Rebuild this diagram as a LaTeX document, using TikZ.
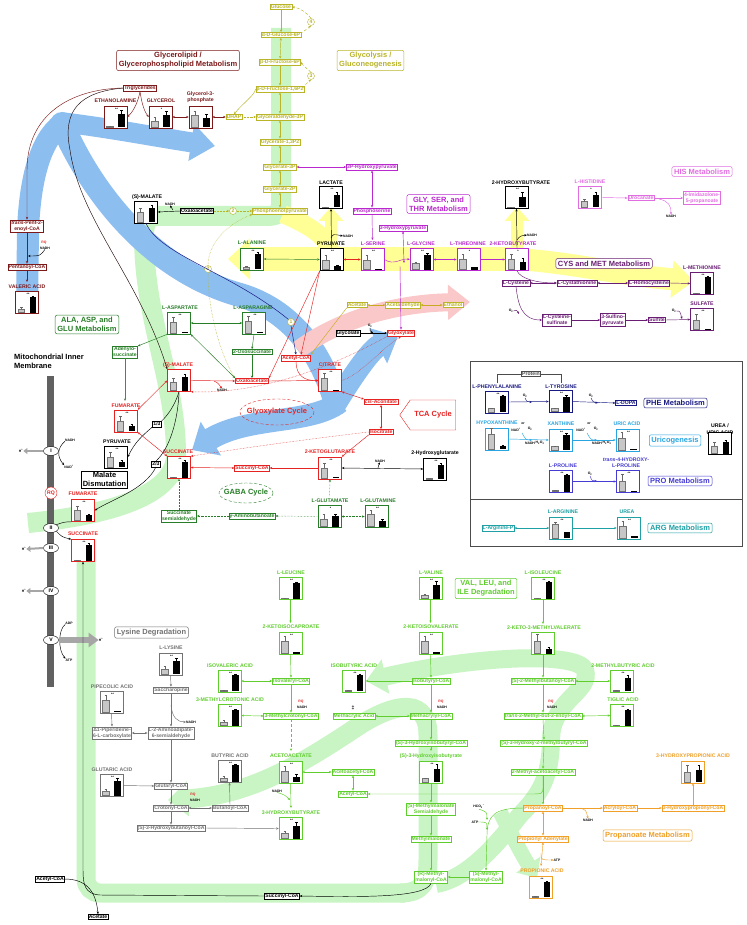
\documentclass[tikz,border=0pt]{standalone}
\usepackage{fontspec}
\setmainfont{Liberation Sans}
\usetikzlibrary{arrows.meta,shapes.geometric,shapes.symbols,calc}
\definecolor{cML}{RGB}{125,25,25}
\definecolor{cGly}{RGB}{185,180,40}
\definecolor{cMag}{RGB}{185,40,205}
\definecolor{cAla}{RGB}{40,125,40}
\definecolor{cTCA}{RGB}{230,35,35}
\definecolor{cCys}{RGB}{105,30,115}
\definecolor{cPhe}{RGB}{25,25,130}
\definecolor{cUri}{RGB}{40,165,225}
\definecolor{cPro}{RGB}{70,60,210}
\definecolor{cArg}{RGB}{30,160,165}
\definecolor{cBca}{RGB}{95,205,45}
\definecolor{cPrp}{RGB}{240,160,40}
\definecolor{cLys}{RGB}{115,115,115}
\definecolor{cHis}{RGB}{225,110,225}
\definecolor{bB}{RGB}{140,190,240}
\definecolor{bG}{RGB}{200,245,195}
\definecolor{bY}{RGB}{255,255,150}
\definecolor{bP}{RGB}{250,200,200}
\newcommand\fs{\fontsize{5.1}{6.2}\selectfont\bfseries}
\newcommand\fl{\fontsize{5.2}{6.3}\selectfont\bfseries}
\newcommand\ft{\fontsize{7.5}{9}\selectfont\bfseries}
\newcommand\fst{\fontsize{3.4}{3.8}\selectfont\bfseries}
\tikzset{
 box/.style={draw=#1, text=#1, fill=white, inner sep=0.8pt, font=\fs, line width=0.45pt, align=center},
 lbl/.style={text=#1, font=\fl, inner sep=0, align=center},
 ttl/.style={draw=#1, text=#1, fill=white, rounded corners=2pt, font=\ft, align=center, inner sep=2.2pt, line width=0.5pt},
 bx/.style={draw=#1, fill=white, minimum width=23pt, minimum height=22pt, inner sep=0, line width=0.55pt},
 cir/.style={circle, draw=#1, text=#1, fill=white, inner sep=0.3pt, font=\fs, minimum size=7pt},
 sm/.style={font=\fst, inner sep=0},
 mc/.style={ellipse, draw, fill=white, inner sep=0.3pt, minimum width=15pt, minimum height=9pt, font=\fs},
 ar/.style={-{Stealth[length=2.6pt,width=2.2pt]}, line width=0.45pt},
 dar/.style={{Stealth[length=2.6pt,width=2.2pt]}-{Stealth[length=2.6pt,width=2.2pt]}, line width=0.45pt},
 hp/.style={black!35, line width=2pt, -{Triangle[length=4pt,width=6pt]}},
}
\newcommand\bb[9]{%
 \node[bx=#4] (#1) at (#2,#3) {};
 \begin{scope}[shift={(#2,#3)}]
  \filldraw[fill=black!22, draw=black!55, line width=0.3pt] (-9,10) rectangle (-2.5,{10-17*#5});
  \draw[line width=0.3pt, black!60] (-5.75,{10-17*#5}) -- (-5.75,{10-17*(#5+#6)}) (-7,{10-17*(#5+#6)}) -- (-4.5,{10-17*(#5+#6)});
  \fill[black] (2.5,10) rectangle (9,{10-17*#7});
  \draw[line width=0.3pt] (5.75,{10-17*#7}) -- (5.75,{10-17*(#7+#8)}) (4.5,{10-17*(#7+#8)}) -- (7,{10-17*(#7+#8)});
  \node[sm] at (1,-8) {#9};
 \end{scope}}
\begin{document}
\begin{tikzpicture}[x=1pt,y=-1pt]
\useasboundingbox (0,0) rectangle (746,925);
\fill[white] (0,0) rectangle (746,925);

%% ---------------- bands ----------------
\draw[bG, line width=20pt] (281,28) -- (281,205) .. controls (281,214) and (276,216) .. (266,216) -- (158,216) .. controls (148,216) and (144,222) .. (144,235) .. controls (144,320) and (176,380) .. (176,455) .. controls (176,495) and (110,515) .. (28,523);
\draw[bG, line width=19pt, rounded corners=14pt] (86,540) -- (86,893) -- (405,893);
\draw[bG, line width=19pt, -{Triangle[width=34pt,length=20pt]}] (400,893) .. controls (424,893) and (428,880) .. (428,860) -- (428,735) .. controls (428,700) and (400,700) .. (360,725) .. controls (300,765) and (250,795) .. (168,800);
\draw[bG, line width=18pt] (436,884) .. controls (470,878) and (500,840) .. (520,815) .. controls (545,790) and (551,770) .. (551,735);
\draw[bG, line width=18pt, -{Triangle[width=34pt,length=20pt]}] (551,740) .. controls (551,700) and (592,692) .. (585,670) .. controls (578,652) and (480,655) .. (366,681);
\draw[bG, line width=15pt, -{Triangle[width=28pt,length=16pt]}] (500,812) .. controls (512,835) and (522,855) .. (537,878);

\fill[bB] (62,124) circle (12);
\draw[bB, line width=20pt, -{Triangle[width=36pt,length=24pt]}] (60,122) .. controls (110,128) and (150,136) .. (215,146);
\draw[bB, line width=22pt] (62,124) .. controls (40,140) and (30,180) .. (28,230) -- (27,312);
\draw[bB, line width=24pt] (62,124) .. controls (90,190) and (150,270) .. (240,295) .. controls (290,310) and (320,350) .. (335,400);
\draw[bB, line width=22pt, -{Triangle[width=38pt,length=22pt]}] (333,408) .. controls (350,380) and (370,350) .. (398,336);
\draw[bB, line width=22pt, -{Triangle[width=38pt,length=22pt]}] (340,402) .. controls (310,425) and (250,415) .. (192,450);

\draw[bP, line width=18pt, -{Triangle[width=34pt,length=22pt]}] (298,350) .. controls (340,318) and (400,303) .. (470,302);

\draw[bY, line width=18pt] (283,214) .. controls (300,222) and (325,232) .. (331,252);
\draw[bY, line width=24pt, -{Triangle[width=40pt,length=22pt]}] (520,259) -- (228,259);
\draw[bY, line width=22pt, -{Triangle[width=36pt,length=22pt]}] (515,259) .. controls (570,262) and (620,275) .. (694,281);
\draw[bY, line width=12pt, -{Triangle[width=24pt,length=14pt]}] (331,252) -- (331,207);
\draw[bY, line width=12pt, -{Triangle[width=24pt,length=14pt]}] (517,252) -- (517,207);

%% ---------------- big frame & membrane ----------------
\draw[black!70, line width=0.7pt] (470,361) rectangle (742,546);
\draw[black!70, line width=0.7pt] (470,499) -- (742,499);
\fill[black!62] (47,376) rectangle (54,687);

%% ---------------- titles ----------------
\node[ttl=cML] (tGL) at (178,60.5) {Glycerolipid /\\Glycerophospholipid Metabolism};
\node[ttl=cGly] (tGlyc) at (370.5,60.5) {Glycolysis /\\Gluconeogenesis};
\node[ttl=cMag] (tGSt) at (438.5,204) {GLY, SER, and\\THR Metabolism};
\node[ttl=cHis] (tHis) at (702,171.5) {HIS Metabolism};
\node[ttl=cCys] (tCys) at (604,263.5) {CYS and MET Metabolism};
\node[ttl=cAla] (tAla) at (87,324.5) {ALA, ASP, and\\GLU Metabolism};
\node[ttl=cPhe] (tPhe) at (675.5,403) {PHE Metabolism};
\node[ttl=cUri] (tUri) at (675,440.5) {Uricogenesis};
\node[ttl=cPro] (tPro) at (680,481) {PRO Metabolism};
\node[ttl=cArg] (tArg) at (680,528) {ARG Metabolism};
\node[ttl=cLys] (tLys) at (151.5,632.5) {Lysine Degradation};
\node[ttl=cBca] (tBca) at (486,588.5) {VAL, LEU, and\\ILE Degradation};
\node[ttl=cPrp] (tPrp) at (647.5,835.5) {Propanoate Metabolism};
\node[draw=cTCA, text=cTCA, signal, signal to=west, signal pointer angle=110, font=\ft, minimum width=56pt, minimum height=30pt, fill=white, inner sep=1pt] (tca) at (433,415) {TCA Cycle};
\node[font=\ft, text=cTCA, inner sep=0] (gxc) at (277,412) {Glyoxylate Cycle};
\draw[cTCA, densely dashed, line width=0.4pt] (gxc.center) ellipse (37 and 13);
\node[font=\ft, text=cAla, inner sep=0] (gabc) at (246,493) {GABA Cycle};
\draw[cAla, densely dashed, line width=0.4pt] (gabc.center) ellipse (27 and 10);
\node[font=\ft, align=left, anchor=north west, inner sep=0] (mito) at (14,354) {Mitochondrial Inner\\Membrane};
\node[draw, font=\ft, align=center, inner sep=1.5pt, fill=white] (mdis) at (104.5,479.5) {Malate\\Dismutation};

%% ---------------- glycerolipid ----------------
\node[box=cML] (trig) at (140,88) {Triglycerides};
\node[lbl=cML] (lEth) at (115.5,101) {ETHANOLAMINE};
\node[lbl=cML] (lGlyc) at (161,101) {GLYCEROL};
\node[lbl=cML] (lG3p) at (200.5,97.5) {Glycerol-3-\\phosphate};
\bb{eth}{115.5}{117}{cML}{0.04}{0}{0.75}{0.22}{**}
\bb{glyc}{160.5}{117}{cML}{0.35}{0.22}{0.7}{0.22}{*}
\bb{g3ph}{200.5}{117}{cML}{0.7}{0.25}{0.55}{0.2}{}
\node[box=cML] (tpent) at (27,226) {\textit{trans}-Pent-2-\\enoyl-CoA};
\node[sm, text=cTCA] (rq0) at (44,243) {RQ};
\node[sm] (nadh0) at (45,248) {NADH};
\node[box=cML] (pent) at (27,267) {Pentanoyl-CoA};
\node[lbl=cML] (lVal) at (27,287) {VALERIC ACID};
\bb{val}{27}{302.5}{cML}{0.2}{0.1}{0.9}{0.08}{**}

%% ---------------- glycolysis ----------------
\node[box=cGly] (gluc) at (281,7) {Glucose};
\node[box=cGly] (g6p) at (281,35) {α-D-Glucose-6P};
\node[box=cGly] (f6p) at (280,62) {β-D-Fructose-6P};
\node[box=cGly] (f16) at (280,89) {β-D-Fructose-1,6P2};
\node[box=cGly] (ga3p) at (280,117) {Glyceraldehyde-3P};
\node[box=cGly] (g13) at (280,142) {Glycerate-1,3P2};
\node[box=cGly] (g3p) at (280,167) {Glycerate-3P};
\node[box=cGly] (g2p) at (280,189) {Glycerate-2P};
\node[box=cGly] (pep) at (280,211) {Phosphoenolpyruvate};
\node[cir=cGly] (c4) at (311,22) {4};
\node[cir=cGly] (c3) at (311,76) {3};
\node[box=cGly] (dhap) at (234,117) {DHAP};
\node[cir=cGly] (c2a) at (233,211) {2};
\node[cir=cGly] (c2b) at (208,269) {2};
\node[cir=cGly] (c1) at (291,322) {1};

%% ---------------- upper middle ----------------
\node[lbl=black] (lSm1) at (147,197) {(S)-MALATE};
\bb{smal1}{146}{212}{black}{0.55}{0.25}{0.85}{0.12}{}
\node[box=black] (oxa1) at (197,211) {Oxaloacetate};
\node[sm] (nadh1) at (170,204) {NADH};
\node[lbl=black] (lLac) at (331,183) {LACTATE};
\bb{lac}{331}{197.5}{black}{0.04}{0}{0.75}{0.15}{**}
\node[box=cMag] (hp3) at (372,167) {3P-Hydroxypyruvate};
\node[box=cMag] (pser) at (372,211) {Phosphoserine};
\node[box=cMag] (hpyr) at (403,228) {3-Hydroxypyruvate};
\node[lbl=black] (lHb) at (521,183) {2-HYDROXYBUTYRATE};
\bb{hb}{516.5}{197.5}{black}{0.04}{0}{0.6}{0.3}{**}
\node[lbl=cHis] (lHis) at (590,182) {L-HISTIDINE};
\bb{his}{590}{197.5}{cHis}{0.35}{0.15}{0.75}{0.15}{*}
\node[box=cHis] (uro) at (641,198) {Urocanate};
\node[box=cHis] (imid) at (702,198) {4-Imidazolone-\\5-propanoate};
\node[sm] (nadh2) at (671,216) {NADH};
\node[sm] (nadh3) at (348,236) {NADH};
\node[sm] (nadh4) at (532,235) {NADH};

\node[lbl=cAla] (lAla) at (252,243) {L-ALANINE};
\bb{ala}{252}{259}{cAla}{0.12}{0.05}{0.9}{0.08}{**}
\node[lbl=black] (lPyr) at (331,244) {PYRUVATE};
\bb{pyr}{331.5}{259.5}{black}{0.55}{0.3}{0.2}{0.05}{**}
\node[lbl=cMag] (lSer) at (373,244) {L-SERINE};
\bb{ser}{372.5}{259.5}{cMag}{0.55}{0.3}{0.03}{0}{**}
\node[lbl=cMag] (lGly) at (421,244) {L-GLYCINE};
\bb{gly}{421.5}{259.5}{cMag}{0.35}{0.1}{0.85}{0.12}{**}
\node[lbl=cMag] (lThr) at (468,244) {L-THREONINE};
\bb{thr}{468.5}{259.5}{cMag}{0.6}{0.3}{0.15}{0}{*}
\node[lbl=cMag] (lKb) at (513,244) {2-KETOBUTYRATE};
\bb{kb}{517}{259.5}{cMag}{0.6}{0.3}{0.45}{0.2}{*}
\node[lbl=cCys] (lMet) at (702,268) {L-METHIONINE};
\bb{met}{702}{283.5}{cCys}{0.04}{0}{0.95}{0.05}{**}
\node[box=cCys] (cys) at (516,283) {L-Cysteine};
\node[box=cCys] (cysta) at (577,283) {L-Cystathionine};
\node[box=cCys] (hcys) at (649,283) {L-Homocysteine};
\node[sm] (o2a) at (511,311) {O\textsubscript{2}};
\node[box=cCys] (cysul) at (557,320) {L-Cysteine-\\sulfinate};
\node[box=cCys] (spyr) at (613,320) {3-Sulfino-\\pyruvate};
\node[box=cCys] (sulfite) at (657,320) {Sulfite};
\node[sm] (o2b) at (674,311) {O\textsubscript{2}};
\node[lbl=cCys] (lSulf) at (702,304) {SULFATE};
\bb{sulf}{702}{319.5}{cCys}{0.55}{0.35}{0.03}{0}{**}

\node[box=cGly] (acetate) at (357,305) {Acetate};
\node[box=cGly] (acald) at (403,305) {Acetaldehyde};
\node[box=cGly] (ethanol) at (453,305) {Ethanol};
\node[box=black] (glycolate) at (348,333) {Glycolate};
\node[sm] (o2c) at (370,326) {O\textsubscript{2}};
\node[box=cTCA] (glyox) at (401,333) {Glyoxylate};

%% ---------------- ASP / TCA ----------------
\node[lbl=cAla] (lAsp) at (180,308) {L-ASPARTATE};
\bb{asp}{179}{323}{cAla}{0.65}{0.3}{0.05}{0}{**}
\node[lbl=cAla] (lAsn) at (253,308) {L-ASPARAGINE};
\bb{asn}{254}{323}{cAla}{0.7}{0.3}{0.05}{0}{**}
\node[box=cAla] (adeno) at (125,352) {Adenylo-\\succinate};
\node[box=cAla] (oxos) at (252,352) {2-Oxosuccinate};
\node[box=cTCA] (acoa) at (296,358) {Acetyl-CoA};
\node[lbl=cTCA] (lSm2) at (178,365) {(S)-MALATE};
\bb{smal2}{179}{380.5}{cTCA}{0.5}{0.25}{0.8}{0.15}{}
\node[box=cTCA] (oxa2) at (252,381) {Oxaloacetate};
\node[sm] (nadh5) at (222,390) {NADH};
\node[lbl=cTCA] (lCit) at (330,365) {CITRATE};
\bb{cit}{330}{380.5}{cTCA}{0.7}{0.3}{0.03}{0}{**}
\node[box=cTCA] (cisacon) at (381,402) {\textit{cis}-Aconitate};
\node[box=cTCA] (isocit) at (381,432) {Isocitrate};
\node[lbl=cTCA] (lFum) at (126,406) {FUMARATE};
\bb{fum}{126}{421}{cTCA}{0.6}{0.3}{0.3}{0.1}{**}
\node[draw, fill=white, font=\fs, inner sep=0.8pt] (n13) at (157,424) {1/3};
\node[lbl=black] (lPyr2) at (117,442) {PYRUVATE};
\bb{pyr2}{116}{457}{black}{0.6}{0.3}{0.3}{0.1}{**}
\node[lbl=cTCA] (lSuc) at (178,452) {SUCCINATE};
\bb{suc}{179}{467.5}{cTCA}{0.04}{0}{0.9}{0.1}{**}
\node[box=cTCA] (succoa) at (252,468) {Succinyl-CoA};
\node[lbl=cTCA] (lKg) at (330,452) {2-KETOGLUTARATE};
\bb{kg}{330}{468}{cTCA}{0.6}{0.3}{0.03}{0}{**}
\node[sm] (nadh6) at (380,461) {NADH};
\node[lbl=black] (lHg) at (435,453) {2-Hydroxyglutarate};
\bb{hg}{435}{469}{black}{0.03}{0}{0.85}{0.1}{**}
\node[draw, fill=white, font=\fs, inner sep=0.8pt] (n23) at (156,464) {2/3};
\node[lbl=cAla] (lGlu) at (330,501) {L-GLUTAMATE};
\bb{glu}{329.5}{516.5}{cAla}{0.45}{0.25}{0.6}{0.15}{*}
\node[lbl=cAla] (lGln) at (378,501) {L-GLUTAMINE};
\bb{gln}{376.5}{516.5}{cAla}{0.75}{0.2}{0.35}{0.1}{**}
\node[box=cAla] (ssa) at (179,516) {Succinate\\semialdehyde};
\node[box=cAla] (gaba) at (252,516) {γ-Aminobutanoate};

%% ---------------- membrane ----------------
\node[mc] (cI) at (51,451) {I};
\node[sm] (nadhI) at (70,440) {NADH};
\node[sm] (nadI) at (69,467) {NAD\textsuperscript{+}};
\node[sm] (hI) at (21,451) {H\textsuperscript{+}};
\node[circle, draw=cTCA, text=cTCA, fill=white, font=\fs, minimum size=12pt, inner sep=0] (rqc) at (51,493) {RQ};
\node[lbl=cTCA] (lFum2) at (83,494) {FUMARATE};
\bb{fum2}{83}{510.5}{cTCA}{0.6}{0.25}{0.3}{0.1}{**}
\node[mc] (cII) at (51,528) {II};
\node[lbl=cTCA] (lSuc2) at (83,534) {SUCCINATE};
\bb{suc2}{83}{550.5}{cTCA}{0.03}{0}{0.9}{0.1}{**}
\node[mc] (cIII) at (51,548) {III};
\node[sm] (hIII) at (24,549) {H\textsuperscript{+}};
\node[mc] (cIV) at (51,591) {IV};
\node[sm] (hIV) at (24,591) {H\textsuperscript{+}};
\node[mc] (cV) at (51,640) {V};
\node[sm] (adp) at (69,623) {ADP};
\node[sm] (atp) at (69,660) {ATP};
\node[sm] (hV) at (101,640) {H\textsuperscript{+}};

%% ---------------- PHE box ----------------
\node[box=black!70] (protein) at (531,374) {Protein};
\node[lbl=cPhe] (lPhe) at (497,387) {L-PHENYLALANINE};
\bb{phe}{497}{402}{cPhe}{0.2}{0}{0.95}{0.05}{**}
\node[lbl=cPhe] (lTyr) at (561,387) {L-TYROSINE};
\bb{tyr}{560.5}{401.5}{cPhe}{0.2}{0}{0.85}{0.1}{**}
\node[sm] (o2d) at (525,396) {O\textsubscript{2}};
\node[sm] (o2e) at (591,396) {O\textsubscript{2}};
\node[box=cPhe] (ldopa) at (626,403) {L-DOPA};
\node[lbl=cUri] (lHyp) at (497,423) {HYPOXANTHINE};
\bb{hyp}{497}{439}{cUri}{0.9}{0.3}{0.2}{0.05}{}
\node[lbl=cUri] (lXan) at (561,424) {XANTHINE};
\bb{xan}{560.5}{440}{cUri}{0.2}{0}{0.9}{0.1}{**}
\node[lbl=cUri] (lUric) at (627,424) {URIC ACID};
\bb{uric}{627.5}{440}{cUri}{0.7}{0.35}{0.05}{0}{**}
\node[lbl=black] (lUreu) at (720,429) {UREA /\\URIC ACID};
\bb{ureu}{720}{443.5}{black}{0.45}{0.2}{0.7}{0.1}{}
\node[sm] at (516,430) {NAD\textsuperscript{+}};
\node[sm] at (523,424) {or};
\node[sm] at (530,429) {O\textsubscript{2}};
\node[sm] at (530,443) {NADH};
\node[sm] at (540,443) {H\textsubscript{2}O\textsubscript{2}};
\node[sm] at (581,430) {NAD\textsuperscript{+}};
\node[sm] at (589,424) {or};
\node[sm] at (596,429) {O\textsubscript{2}};
\node[sm] at (597,443) {NADH};
\node[sm] at (607,443) {H\textsubscript{2}O\textsubscript{2}};
\node[lbl=cPro] (lPro) at (563,466) {L-PROLINE};
\bb{pro}{561}{481.5}{cPro}{0.1}{0}{0.95}{0.05}{**}
\node[lbl=cPro] (lHpro) at (626,463) {\textit{trans}-4-HYDROXY-\\L-PROLINE};
\bb{hpro}{628}{481.5}{cPro}{0.6}{0.4}{0.05}{0}{**}
\node[sm] (o2f) at (590,474) {O\textsubscript{2}};
\node[box=cArg] (argp) at (498,528) {L-Arginine-P};
\node[lbl=cArg] (lArg) at (563,512) {L-ARGININE};
\bb{arg}{561}{528}{cArg}{0.8}{0.15}{0.35}{0}{**}
\node[lbl=cArg] (lUrea) at (627,512) {UREA};
\bb{urea}{628.5}{528}{cArg}{0.7}{0.3}{0.1}{0}{**}

%% ---------------- lower part ----------------
\node[lbl=cBca] (lLeu) at (291,573) {L-LEUCINE};
\bb{leu}{290.5}{588.5}{cBca}{0.05}{0}{0.9}{0.05}{**}
\node[lbl=cBca] (lVali) at (431,573) {L-VALINE};
\bb{vali}{430.5}{588.5}{cBca}{0.2}{0.05}{0.8}{0.2}{**}
\node[lbl=cBca] (lIle) at (543,573) {L-ISOLEUCINE};
\bb{ile}{543}{588.5}{cBca}{0.05}{0}{0.95}{0.05}{**}
\node[lbl=cBca] (lKic) at (291,627) {2-KETOISOCAPROATE};
\bb{kic}{290.5}{643.5}{cBca}{0.75}{0.3}{0.1}{0}{**}
\node[lbl=cBca] (lKiv) at (431,627) {2-KETOISOVALERATE};
\bb{kiv}{430.5}{643.5}{cBca}{0.75}{0.3}{0.1}{0}{**}
\node[lbl=cBca] (lKmv) at (544,628) {2-KETO-3-METHYLVALERATE};
\bb{kmv}{543}{643.5}{cBca}{0.75}{0.4}{0.25}{0.1}{}
\node[lbl=cLys] (lLys) at (171,648) {L-LYSINE};
\bb{lys}{170.5}{664}{cLys}{0.3}{0.15}{0.75}{0.2}{**}
\node[lbl=cBca] (lIva) at (230,666) {ISOVALERIC ACID};
\bb{iva}{229.5}{681}{cBca}{0.03}{0}{0.95}{0.05}{**}
\node[lbl=cBca] (lIba) at (354,666) {ISOBUTYRIC ACID};
\bb{iba}{354}{681}{cBca}{0.03}{0}{0.95}{0.05}{**}
\node[lbl=cBca] (lMba) at (623,666) {2-METHYLBUTYRIC ACID};
\bb{mba}{622}{681}{cBca}{0.05}{0}{0.75}{0.2}{**}
\node[box=cBca] (isovcoa) at (291,681) {Isovaleryl-CoA};
\node[box=cBca] (isobcoa) at (431,681) {Isobutyryl-CoA};
\node[box=cBca] (mbcoa) at (543,681) {(S)-2-Methylbutanoyl-CoA};
\node[lbl=cLys] (lPip) at (112,687) {PIPECOLIC ACID};
\bb{pip}{111.5}{702}{cLys}{0.7}{0.3}{0.03}{0}{**}
\node[box=cLys] (sacch) at (171,690) {Saccharopine};
\node[lbl=cBca] (lMca) at (230,700) {3-METHYLCROTONIC ACID};
\bb{mca}{229.5}{715.5}{cBca}{0.2}{0.1}{0.9}{0.05}{**}
\node[lbl=cBca] (lTig) at (623,700) {TIGLIC ACID};
\bb{tig}{622}{715.5}{cBca}{0.03}{0}{0.9}{0.08}{**}
\node[sm, text=cTCA] at (301,702) {RQ};
\node[sm] at (302,707) {NADH};
\node[sm, text=cTCA] at (441,702) {RQ};
\node[sm] at (442,707) {NADH};
\node[sm, text=cTCA] at (551,702) {RQ};
\node[sm] at (552,707) {NADH};
\node[font=\fl, inner sep=0] at (353,708) {‡};
\node[box=cBca] (mccoa) at (291,716) {3-Methylcrotonyl-CoA};
\node[box=cBca] (macid) at (354,716) {Methacrylic Acid};
\node[box=cBca] (maccoa) at (431,716) {Methacrylyl-CoA};
\node[box=cBca] (tmb) at (543,716) {\textit{trans}-2-Methyl-but-2-enoyl-CoA};
\node[sm] (nadh7) at (191,722) {NADH};
\node[box=cLys] (p6c) at (112,733) {Δ1-Piperideine-\\6-L-carboxylate};
\node[box=cLys] (aas) at (171,733) {L-2-Aminoadipate-\\6-semialdehyde};
\node[box=cBca] (hibcoa) at (431,743) {(S)-3-Hydroxyisobutyryl-CoA};
\node[box=cBca] (hmb) at (544,743) {(S)-3-Hydroxy-2-methylbutyryl-CoA};
\node[lbl=cBca] (lAcac) at (291,756) {ACETOACETATE};
\bb{acac}{290.5}{772}{cBca}{0.65}{0.3}{0.3}{0.15}{**}
\node[lbl=cBca] (lHiba) at (431,756) {(S)-3-Hydroxyisobutyrate};
\bb{hiba}{431}{772}{cBca}{0.2}{0.05}{0.75}{0.3}{**}
\node[lbl=cLys] (lButa) at (230,756) {BUTYRIC ACID};
\bb{buta}{229.5}{771.5}{cLys}{0.2}{0.1}{0.95}{0.05}{**}
\node[lbl=cPrp] (lHpa) at (693,756) {3-HYDROXYPROPIONIC ACID};
\bb{hpa}{693}{772}{cPrp}{0.6}{0.4}{0.7}{0.3}{}
\node[lbl=cLys] (lGlta) at (112,770) {GLUTARIC ACID};
\bb{glta}{111.5}{785.5}{cLys}{0.25}{0.1}{0.85}{0.15}{**}
\node[box=cLys] (glutcoa) at (171,786) {Glutaryl-CoA};
\node[box=cBca] (aacoa) at (353,772) {Acetoacetyl-CoA};
\node[box=cBca] (macaa) at (543,772) {2-Methyl-acetoacetyl-CoA};
\node[box=cBca] (acoa2) at (353,794) {Acetyl-CoA};
\node[sm] (nadh8) at (277,791) {NADH};
\node[sm, text=cTCA] at (193,795) {RQ};
\node[sm] at (195,800) {NADH};
\node[box=cLys] (crot) at (171,808) {Crotonyl-CoA};
\node[box=cLys] (butcoa) at (230,808) {Butanoyl-CoA};
\node[box=cPrp] (propcoa) at (543,808) {Propanoyl-CoA};
\node[box=cPrp] (acrcoa) at (620,808) {Acryloyl-CoA};
\node[box=cPrp] (hpcoa) at (693,808) {3-Hydroxypropionyl-CoA};
\node[sm] (nadh9) at (588,820) {NADH};
\node[box=cBca] (mmsa) at (431,809) {(S)-Methylmalonate\\Semialdehyde};
\node[sm] (hco3) at (479,807) {HCO\textsubscript{3}\textsuperscript{−}};
\node[sm] (atp2) at (475,822) {ATP};
\node[lbl=cBca] (lBhb) at (291,813) {3-HYDROXYBUTYRATE};
\bb{bhb}{290.5}{828.5}{cBca}{0.3}{0.15}{0.75}{0.2}{**}
\node[box=cLys] (hbcoa) at (171,828) {(S)-3-Hydroxybutanoyl-CoA};
\node[box=cPrp] (propad) at (543,839) {Propionyl Adenylate};
\node[box=cBca] (mma) at (431,839) {Methylmalonate};
\node[sm] (atp3) at (557,860) {ATP};
\node[lbl=cPrp] (lPpa) at (542,871) {PROPIONIC ACID};
\bb{ppa}{541}{887}{cPrp}{0.03}{0}{0.9}{0.05}{**}
\node[box=cBca] (rmm) at (431,877) {(R)-Methyl-\\malonyl-CoA};
\node[box=cBca] (smm) at (486,877) {(S)-Methyl-\\malonyl-CoA};
\node[box=black] (acoa3) at (50,879) {Acetyl-CoA};
\node[box=black] (succoa2) at (282,896) {Succinyl-CoA};
\node[box=black] (acetate2) at (98,917) {Acetate};

%% named free ends
\coordinate (serTop) at (372.5,240);
\coordinate (hpEnd) at (404,263);
\coordinate (glyTurn) at (400,266);
\coordinate (fumTop) at (125,401);
\coordinate (gluTop) at (329.5,496);
\coordinate (pheTop) at (497,383);
\coordinate (tyrTop) at (561,383);
\coordinate (kicTop) at (290.5,623);
\coordinate (kivTop) at (430.5,623);
\coordinate (kmvTop) at (543,624);
\coordinate (acacTop) at (291,751);
\coordinate (hibTop) at (431,751);
\coordinate (bhbTop) at (291,808);
\coordinate (ppaTop) at (541,866);
\coordinate (valTop) at (27,282);
\coordinate (lacBot) at (331,209);

%% ---------------- connectors ----------------
\draw[ar,cGly] (gluc) -- (g6p);
\draw[ar,cGly,densely dashed] (g6p.east) .. controls (300,33) and (306,30) .. (c4.south);
\draw[ar,cGly,densely dashed] (c4.north) .. controls (306,12) and (300,8) .. (gluc.east);
\draw[dar,cGly] (g6p) -- (f6p);
\draw[ar,cGly] (f6p) -- (f16);
\draw[ar,cGly,densely dashed] (f16.east) .. controls (302,87) and (306,84) .. (c3.south);
\draw[ar,cGly,densely dashed] (c3.north) .. controls (306,68) and (302,64) .. (f6p.east);
\draw[dar,cGly] (f16) -- (ga3p);
\draw[dar,cGly] (ga3p) -- (g13);
\draw[dar,cGly] (g13) -- (g3p);
\draw[dar,cGly] (g3p) -- (g2p);
\draw[dar,cGly] (g2p) -- (pep);
\draw[ar,cGly] (f16.west) .. controls (255,95) and (242,104) .. (dhap.north);
\draw[ar,cGly,densely dotted] (dhap) -- (ga3p);
\draw[dar,cML] (g3ph) -- (dhap);
\draw[dar,cML] (glyc) -- (g3ph);
\draw[ar,cML] (trig.south) .. controls (139,98) and (135,110) .. (eth.east);
\draw[ar,cML] (trig.south) .. controls (141,98) and (143,110) .. (glyc.west);
\draw[ar,cML] (trig.west) .. controls (70,89) and (27,115) .. (27,170) -- (tpent.north);
\draw[ar,black!75!cML] (trig.west) .. controls (80,92) and (62,110) .. (70,150) .. controls (80,220) and (140,280) .. (smal2.north west);
\draw[ar,cML] (tpent) -- (pent);
\draw[ar] (nadh0.south) .. controls (40,256) .. (28,256);
\draw[ar,cML] (pent) -- (valTop);

\draw[ar] (oxa1.west) -- (smal1.east);
\draw[ar] (173,210) .. controls (171,207) .. (nadh1.south);
\draw[ar,cGly,densely dotted] (oxa1.east) -- (c2a.west);
\draw[ar,cGly,densely dotted] (c2a.east) -- (pep.west);
\draw[cGly,densely dotted,line width=0.5pt] (oxa2.north west) .. controls (220,355) and (208,310) .. (c2b.south);
\draw[ar,cGly,densely dotted,line width=0.5pt] (c2b.north) .. controls (208,245) and (225,225) .. (pep.south west);
\draw[cPhe, line width=0.5pt] (smal1.south) .. controls (160,255) and (230,272) .. (c1.north west);
\draw[ar,cPhe] (c1.south) -- (acoa.north);

\draw[ar] (pyr.north) -- (lacBot);
\draw[ar] (331,238) .. controls (333,234) .. (nadh3.west);
\draw[dar,cAla] (ala.east) -- (pyr.west);
\draw[dar,cTCA] (pyr.east) -- (ser.west);
\draw[ar,cMag] (ser.east) .. controls (395,266) and (400,258) .. (gly.west);
\draw[dar,cMag] (gly.east) -- (thr.west);
\draw[ar,cMag] (thr.east) -- (kb.west);
\draw[dar,cMag] (g3p.east) -- (hp3.west);
\draw[dar,cMag] (hp3.south) -- (pser.north);
\draw[ar,cMag] (pser.south) -- (serTop);
\draw[dar,cMag] (hpyr.south) -- (hpEnd);
\draw[ar,cMag] (glyTurn) -- (glyox.north);
\draw[ar] (kb.north) -- (hb.south);
\draw[ar] (517,240) .. controls (520,236) .. (nadh4.west);
\draw[ar,cHis] (his.east) -- (uro.west);
\draw[ar,cHis] (uro.east) -- (imid.west);
\draw[ar,cHis] (659,199) .. controls (668,201) and (671,205) .. (nadh2.north);

\draw[ar,cCys] (kb.south) .. controls (520,278) and (535,283) .. (cysta.west);
\draw[dar,cCys] (cys.east) -- (cysta.west);
\draw[dar,cCys] (cysta.east) -- (hcys.west);
\draw[ar,cCys] (hcys.east) -- (met.west);
\draw[ar,cCys] (cys.south) .. controls (518,305) and (522,320) .. (cysul.west);
\draw[ar,cCys] (o2a.east) .. controls (517,310) .. (519,314);
\draw[ar,cCys] (cysul.east) -- (spyr.west);
\draw[ar,cCys] (spyr.east) -- (sulfite.west);
\draw[ar,cCys] (sulfite.east) -- (sulf.west);
\draw[ar,cCys] (o2b.east) .. controls (680,311) .. (682,319);

\draw[ar,cGly!80!orange] (acetate.south west) -- (acoa.north east);
\draw[dar,cGly!80!orange] (acald.west) -- (acetate.east);
\draw[dar,cGly!80!orange] (ethanol.west) -- (acald.east);
\draw[ar] (glycolate.east) -- (glyox.west);
\draw[ar] (o2c.south) .. controls (370,331) .. (373,333);

\draw[dar,cAla] (asp.east) -- (asn.west);
\draw[ar,cAla] (asp.south west) -- (adeno.north east);
\draw[ar,cAla!50!gray] (adeno.south) -- (fumTop);
\draw[dar,cAla] (asp.south east) -- (oxa2.north west);
\draw[ar,cAla] (asn.south) -- (oxos.north);
\draw[ar,cAla] (oxos.south) -- (oxa2.north);
\draw[ar,cTCA] (pyr.south west) -- ($(acoa.north)+(5,0)$);
\draw[ar,cTCA] (pyr.south west) -- (oxa2.north east);

\draw[ar,cTCA] (oxa2.east) -- (cit.west);
\draw[ar,cTCA] (acoa.south) .. controls (296,376) and (305,381) .. (cit.west);
\draw[dar,cTCA] (cit.south east) -- (cisacon.north west);
\draw[dar,cTCA] (cisacon.south) -- (isocit.north);
\draw[ar,cTCA] (isocit.south west) -- (kg.north east);
\draw[ar,cTCA] (kg.west) -- (succoa.east);
\draw[dar,cTCA] (succoa.west) -- (suc.east);
\draw[dar,cTCA] (suc.north west) -- (fum.south east);
\draw[dar,cTCA] (fum.north east) -- (smal2.west);
\draw[ar,cTCA] (smal2.east) -- (oxa2.west);
\draw[ar,cTCA] (214,381) .. controls (218,383) .. (nadh5.north);
\draw[ar,cTCA,densely dotted] (isocit.west) .. controls (300,440) and (230,450) .. (suc.north east);
\draw[ar,cTCA,densely dotted] (cit.east) .. controls (360,375) and (380,350) .. (glyox.south);
\draw[ar,cTCA,densely dotted] (glyox.south west) .. controls (330,368) and (260,394) .. (smal2.south east);
\draw[dar] (kg.east) -- (hg.west);
\draw[ar] (378,468) .. controls (379,464) .. (nadh6.south);
\draw[ar,cAla,densely dotted] (gluTop) -- (kg.south);
\draw[dar,cAla,densely dotted] (glu.east) -- (gln.west);
\draw[ar,cAla,densely dotted] (glu.west) -- (gaba.east);
\draw[ar,cAla,densely dotted] (gaba.west) -- (ssa.east);
\draw[ar,cAla,densely dotted] (ssa.north) -- (suc.south);

\draw[line width=0.45pt] (smal2.south) .. controls (175,405) and (168,415) .. (n13.north east);
\draw[ar] (n13.south west) .. controls (142,436) and (135,442) .. (pyr2.east);
\draw[line width=0.45pt] (smal2.south) .. controls (178,420) and (170,448) .. (n23.north);
\draw[ar] (n23.south) .. controls (145,490) and (110,500) .. (fum2.east);
\draw[line width=0.45pt] (fum2.south west) .. controls (64,522) .. (cII.north east);
\draw[ar] (cII.south east) .. controls (62,537) .. (suc2.north west);
\draw[ar] (nadhI.south west) .. controls (57,448) and (57,457) .. (nadI.north west);
\draw[ar] (adp.south west) .. controls (58,630) and (58,650) .. (atp.north west);
\draw[hp] (cI.west) -- (hI.east);
\draw[hp] (cIII.west) -- (hIII.east);
\draw[hp] (cIV.west) -- (hIV.east);
\draw[black!35, line width=6pt, -{Triangle[length=10pt,width=14pt]}] (cV.east) -- (hV.west);

\draw[black!70] (pheTop) |- (protein.west);
\draw[black!70] (protein.east) -| (tyrTop);
\draw[ar,cPhe] (phe.east) -- (tyr.west);
\draw[ar,cPhe] (o2d.south) .. controls (527,402) .. (532,402);
\draw[ar,cPhe] (tyr.east) -- (ldopa.west);
\draw[ar,cPhe] (o2e.south) .. controls (593,402) .. (598,403);
\draw[ar,cUri] (hyp.east) -- (xan.west);
\draw[ar,cUri] (522,433) .. controls (526,440) .. (532,440);
\draw[ar,cUri] (xan.east) -- (uric.west);
\draw[ar,cUri] (587,433) .. controls (591,440) .. (597,440);
\draw[ar,cPro] (pro.east) -- (hpro.west);
\draw[ar,cPro] (o2f.south) .. controls (592,481) .. (597,481);
\draw[dar,cArg] (argp.east) -- (arg.west);
\draw[ar,cArg] (arg.east) -- (urea.west);

\draw[ar,cLys] (lys.south) -- (sacch.north);
\draw[ar,cLys] (sacch.south) -- (aas.north);
\draw[ar,cLys] (171,705) .. controls (172,718) and (178,722) .. (nadh7.west);
\draw[dar,cLys] (p6c.east) -- (aas.west);
\draw[ar,cLys] (pip.south) -- (p6c.north);
\draw[ar,cLys] (aas.south) -- (glutcoa.north);
\draw[ar,cLys] (glta.east) -- (glutcoa.west);
\draw[ar,cLys] (glutcoa.south) -- (crot.north);
\draw[dar,cLys] (crot.east) -- (butcoa.west);
\draw[ar,cLys] (butcoa.north) -- (buta.south);
\draw[ar,cLys] (crot.south) -- (hbcoa.north);
\draw[ar,cLys] (hbcoa.east) -- (bhb.west);

\draw[ar,cBca] (leu.south) -- (kicTop);
\draw[ar,cBca] (vali.south) -- (kivTop);
\draw[ar,cBca] (ile.south) -- (kmvTop);
\draw[ar,cBca] (kic.south) -- (isovcoa.north);
\draw[ar,cBca] (kiv.south) -- (isobcoa.north);
\draw[ar,cBca] (kmv.south) -- (mbcoa.north);
\draw[dar,cBca] (iva.east) -- (isovcoa.west);
\draw[ar,cBca] (isobcoa.west) -- (iba.east);
\draw[dar,cBca] (mbcoa.east) -- (mba.west);
\draw[ar,cBca] (isovcoa.south) -- (mccoa.north);
\draw[ar,cBca] (isobcoa.south) -- (maccoa.north);
\draw[ar,cBca] (mbcoa.south) -- (tmb.north);
\draw[dar,cBca] (mca.east) -- (mccoa.west);
\draw[dar,cBca] (macid.east) -- (maccoa.west);
\draw[dar,cBca] (tmb.east) -- (tig.west);
\draw[ar,cBca,densely dashed] (mccoa.south) -- (acacTop);
\draw[ar,cBca] (maccoa.south) -- (hibcoa.north);
\draw[ar,cBca] (tmb.south) -- (hmb.north);
\draw[ar,cBca] (hibcoa.south) -- (hibTop);
\draw[ar,cBca] (hmb.south) -- (macaa.north);
\draw[dar,cBca] (acac.east) -- (aacoa.west);
\draw[dar,cBca] (aacoa.south) -- (acoa2.north);
\draw[ar,cBca] (acac.south) -- (bhbTop);
\draw[ar,cBca] (nadh8.south) .. controls (285,795) .. (290,800);
\draw[ar,cBca] (hiba.south) -- (mmsa.north);
\draw[ar,cBca] (mmsa.south) -- (mma.north);
\draw[ar,cBca] (mma.south) -- (rmm.north);
\draw[ar,cBca] (macaa.south) -- (propcoa.north);
\draw[ar,cBca] (macaa.south) -- (543,786) .. controls (543,794) .. (530,794) -- (acoa2.east);
\draw[ar,cBca] (propcoa.west) .. controls (495,808) and (487,815) .. (487,835) -- (smm.north);
\draw[ar,cBca] (hco3.south) .. controls (487,812) .. (487,820);
\draw[ar,cBca] (atp2.east) .. controls (487,822) .. (487,830);
\draw[ar,cBca] (smm.west) -- (rmm.east);
\draw[dar,cPrp] (propcoa.south) -- (propad.north);
\draw[dar,cPrp] (propad.south) -- (ppaTop);
\draw[ar,cPrp] (541,853) .. controls (541,860) .. (atp3.west);
\draw[ar,cPrp] (propcoa.east) -- (acrcoa.west);
\draw[ar,cPrp] (580,808) .. controls (586,810) .. (nadh9.north);
\draw[ar,cPrp] (acrcoa.east) -- (hpcoa.west);
\draw[ar,cPrp] (hpcoa.north) -- (hpa.south);

\draw[ar] (rmm.south) .. controls (425,898) and (360,897) .. (succoa2.east);
\draw[ar] (succoa2.west) -- (100,895) .. controls (85,894) and (83,885) .. (83,870) -- (suc2.south);
\draw[ar] (acoa3.east) .. controls (85,879) and (96,890) .. (acetate2.north);
\end{tikzpicture}
\end{document}
